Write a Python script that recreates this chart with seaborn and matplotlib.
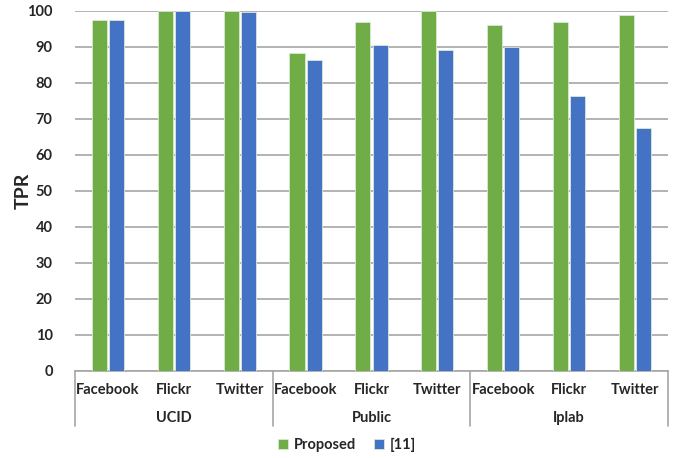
import numpy as np
import pandas as pd
import matplotlib.pyplot as plt
import seaborn as sns

datasets = ['UCID', 'Public', 'Iplab']
platforms = ['Facebook', 'Flickr', 'Twitter']
proposed = [97.5, 100, 100, 88.2, 97.0, 100, 96.0, 97.0, 98.8]
ref11 = [97.5, 100, 99.7, 86.4, 90.6, 89.3, 90.0, 76.3, 67.4]

keys = [d + '-' + p for d in datasets for p in platforms]
tick_labels = [p for d in datasets for p in platforms]

df = pd.DataFrame({
    'key': keys * 2,
    'TPR': proposed + ref11,
    'Method': ['Proposed'] * 9 + ['[11]'] * 9,
})

sns.set_style('white')
plt.rcParams['font.family'] = ['Lato', 'DejaVu Sans']

fig = plt.figure(figsize=(6.81, 4.58), dpi=100)
ax = fig.add_axes([0.110, 0.190, 0.871, 0.786])

sns.barplot(data=df, x='key', y='TPR', hue='Method', order=keys,
            palette={'Proposed': '#70AD47', '[11]': '#4472C4'}, saturation=1,
            width=0.52, gap=0.12, edgecolor='#d9ead3', linewidth=0.6,
            ax=ax, zorder=3)

ax.set_ylim(0, 100)
ax.set_xlim(-0.5, 8.5)
ax.set_yticks(np.arange(0, 101, 10))
ax.yaxis.grid(True, color='#a6a6a6', linewidth=1.2, zorder=0)
ax.set_axisbelow(True)
for s in ['top', 'right', 'left']:
    ax.spines[s].set_visible(False)
ax.spines['bottom'].set_color('#a6a6a6')
ax.spines['bottom'].set_linewidth(1.2)
ax.tick_params(axis='both', length=0, labelsize=10.5)
for t in ax.get_yticklabels():
    t.set_fontweight('bold')
ax.set_xticks(range(9))
ax.set_xticklabels(tick_labels, fontweight='bold', fontsize=10.5)
ax.tick_params(axis='x', pad=9)
ax.tick_params(axis='y', pad=16)
ax.set_xlabel('')
ax.set_ylabel('TPR', fontsize=14, fontweight='bold', labelpad=-3)

# second level labels and separators
trans = ax.get_xaxis_transform()
for xpos in [-0.5, 2.5, 5.5, 8.5]:
    ax.plot([xpos, xpos], [0, -0.152], transform=trans, color='#a6a6a6',
            linewidth=1.2, clip_on=False)
for i, d in enumerate(datasets):
    ax.text(3 * i + 1, -0.13, d, transform=trans, ha='center', va='center',
            fontsize=10.5, fontweight='bold')

handles, labels = ax.get_legend_handles_labels()
ax.legend_.remove()
fig.legend(handles, labels, loc='center', bbox_to_anchor=(0.51, 0.028), ncol=2,
           frameon=False, handlelength=0.7, handleheight=0.7, handletextpad=0.4,
           columnspacing=1.2, prop={'weight': 'bold', 'size': 10.5})

fig.savefig('out.png', dpi=100)
